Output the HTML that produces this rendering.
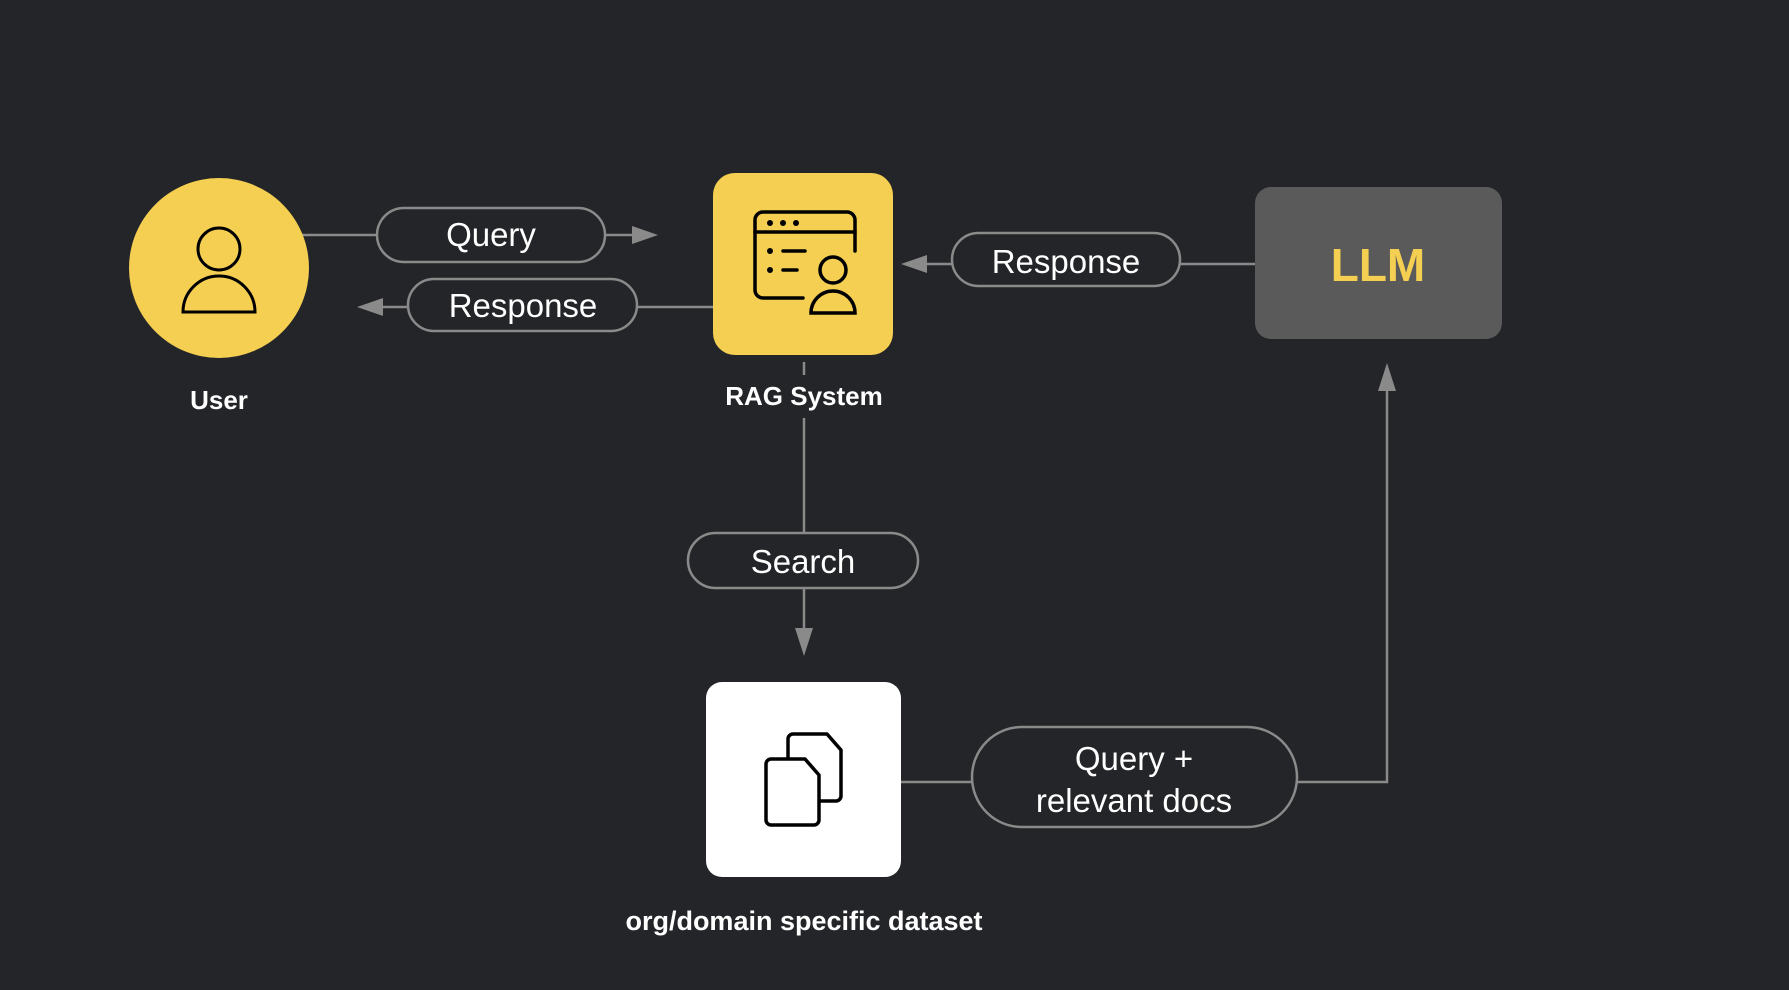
<!DOCTYPE html>
<html><head><meta charset="utf-8"><style>
html,body{margin:0;padding:0;background:#242529;}
svg{display:block}
text{font-family:"Liberation Sans","DejaVu Sans",sans-serif;}
</style></head><body>
<svg width="1789" height="990" viewBox="0 0 1789 990" xmlns="http://www.w3.org/2000/svg">
<rect width="1789" height="990" fill="#242529"/>
<g stroke="#8a8a8a" stroke-width="2.5" fill="none">
  <line x1="300" y1="235" x2="377" y2="235"/>
  <line x1="605" y1="235" x2="636" y2="235"/>
  <line x1="637" y1="307" x2="713" y2="307"/>
  <line x1="408" y1="307" x2="375" y2="307"/>
  <line x1="1180" y1="264" x2="1255" y2="264"/>
  <line x1="952" y1="264" x2="920" y2="264"/>
  <line x1="804" y1="362" x2="804" y2="375"/>
  <line x1="804" y1="418" x2="804" y2="533"/>
  <line x1="804" y1="588" x2="804" y2="630"/>
  <line x1="901" y1="782" x2="972" y2="782"/>
  <polyline points="1297,782 1387,782 1387,385"/>
</g>
<g fill="#8a8a8a">
  <polygon points="658,235 632,226 632,244"/>
  <polygon points="357,307 383,298 383,316"/>
  <polygon points="901,264 927,255 927,273"/>
  <polygon points="804,656 795,628 813,628"/>
  <polygon points="1387,363 1378,391 1396,391"/>
</g>
<g stroke="#8a8a8a" stroke-width="2.5" fill="#242529">
  <rect x="377" y="208" width="228" height="54" rx="27"/>
  <rect x="408" y="279" width="229" height="52" rx="26"/>
  <rect x="952" y="233" width="228" height="53" rx="26.5"/>
  <rect x="688" y="533" width="230" height="55" rx="27.5"/>
  <rect x="972" y="727" width="325" height="100" rx="50"/>
</g>
<g fill="#ffffff" font-size="33" text-anchor="middle">
  <text x="491" y="246">Query</text>
  <text x="523" y="317">Response</text>
  <text x="1066" y="273">Response</text>
  <text x="803" y="573">Search</text>
  <text x="1134" y="770">Query +</text>
  <text x="1134" y="812">relevant docs</text>
</g>
<circle cx="219" cy="268" r="90" fill="#f5cf52"/>
<g stroke="#000" stroke-width="3" fill="none">
  <circle cx="219" cy="249" r="21"/>
  <path d="M183,312 A36,36 0 0 1 255,312 Z"/>
</g>
<text x="219" y="409" fill="#fff" font-size="26" font-weight="bold" text-anchor="middle">User</text>
<rect x="713" y="173" width="180" height="182" rx="22" fill="#f5cf52"/>
<g stroke="#000" stroke-width="3.5" fill="none" stroke-linecap="round">
  <path d="M803,298 H763 a8,8 0 0 1 -8,-8 V220 a8,8 0 0 1 8,-8 H847 a8,8 0 0 1 8,8 V251"/>
  <line x1="755" y1="232" x2="855" y2="232"/>
  <line x1="783" y1="251" x2="805" y2="251"/>
  <line x1="783" y1="270" x2="797" y2="270"/>
  <circle cx="833" cy="270" r="13"/>
  <path d="M811,313 A22,22 0 0 1 855,313 Z"/>
</g>
<g fill="#000">
  <circle cx="770" cy="223" r="3"/><circle cx="783" cy="223" r="3"/><circle cx="796" cy="223" r="3"/>
  <circle cx="770" cy="251" r="3"/><circle cx="770" cy="270" r="3"/>
</g>
<text x="804" y="405" fill="#fff" font-size="26" font-weight="bold" text-anchor="middle">RAG System</text>
<rect x="1255" y="187" width="247" height="152" rx="16" fill="#5a5a5a"/>
<text x="1378" y="281" fill="#f5cf52" font-size="46" font-weight="bold" text-anchor="middle">LLM</text>
<rect x="706" y="682" width="195" height="195" rx="16" fill="#ffffff"/>
<g stroke="#000" stroke-width="3.5" fill="#fff" stroke-linejoin="round">
  <path d="M793,734 H827 L841,750 V796 a5,5 0 0 1 -5,5 H793 a5,5 0 0 1 -5,-5 V739 a5,5 0 0 1 5,-5 Z"/>
  <path d="M771,759 H805 L819,775 V820 a5,5 0 0 1 -5,5 H771 a5,5 0 0 1 -5,-5 V764 a5,5 0 0 1 5,-5 Z"/>
</g>
<text x="804" y="930" fill="#fff" font-size="27" font-weight="bold" text-anchor="middle">org/domain specific dataset</text>
</svg>
</body></html>
